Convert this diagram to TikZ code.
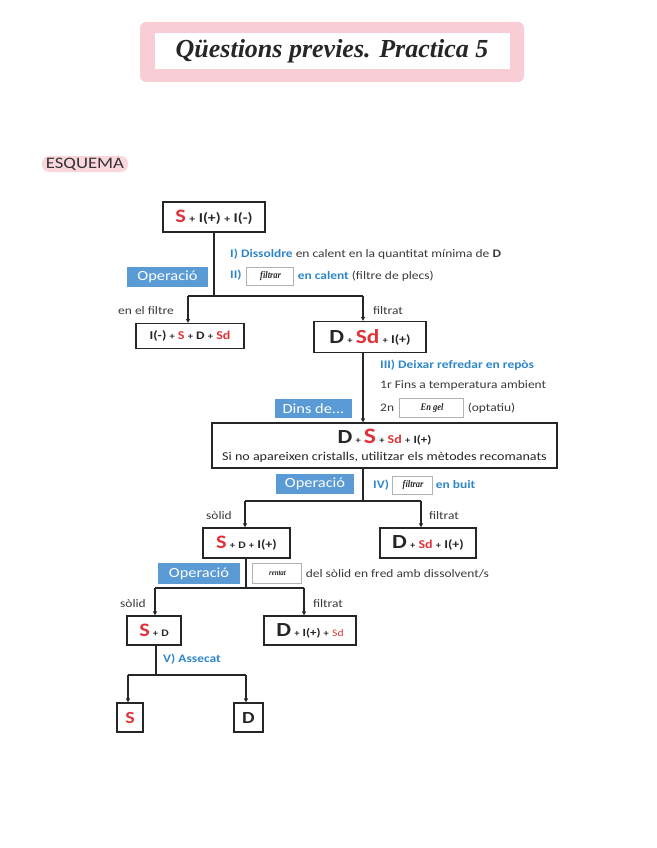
\documentclass[tikz,border=0pt]{standalone}
\usepackage{fontspec}
\setmainfont{Carlito}[FakeStretch=1.17]
\newfontfamily\titlefont{Liberation Serif}
\newfontfamily\hwfont{Liberation Serif}[FakeStretch=0.85]
\usetikzlibrary{arrows.meta}
\definecolor{sred}{HTML}{E0343A}
\definecolor{opblue}{HTML}{5B9BD5}
\definecolor{tblue}{HTML}{2E86C8}
\definecolor{tgray}{HTML}{3A3A3A}
\definecolor{pinkb}{HTML}{F9CDD5}
\newcommand{\fs}[1]{\fontsize{#1}{#1}\selectfont}
\newcommand{\rd}[2]{{\fs{#1}\color{sred}#2}}
\newcommand{\pl}{\ {\fs{9}+}\ }
\begin{document}
\begin{tikzpicture}[x=1pt,y=-1pt,
  box/.style={draw=black!85, line width=1.3pt, inner sep=0pt, font=\bfseries\fs{12}, text=black!85},
  op/.style={fill=opblue, text=white, inner sep=0pt, font=\fs{14}},
  hw/.style={draw=black!30, line width=0.6pt, fill=white, inner sep=0pt, font=\bfseries\itshape\fs{10}\hwfont, anchor=west, text=black!85},
  lbl/.style={font=\fs{11.5}, text=tgray, inner sep=0pt},
  arr/.style={draw=black!85, line width=1.3pt, -{Triangle[length=4pt,width=4pt]}},
  ln/.style={draw=black!85, line width=1.3pt}]
\useasboundingbox (0,0) rectangle (656,848);
% title
\node[fill=pinkb, rounded corners=6pt, minimum width=384, minimum height=60, inner sep=0pt] (tbg) at (332,52) {};
\node[fill=white, minimum width=355, minimum height=36, inner sep=0pt, font=\titlefont\bfseries\itshape\fs{26}, text=black!85] (title) at (332,51) {Qüestions previes. Practica 5};
% esquema
\node[fill=pinkb!80, rounded corners=7pt, minimum width=86, minimum height=16, inner sep=0pt] (eshl) at (85,164) {};
\node[font=\fs{16}, text=black!80, inner sep=0pt] (esq) at (85,164) {ESQUEMA};
% boxes
\node[box, minimum width=102, minimum height=30, font=\bfseries\fs{13.5}] (b1) at (214,217) {\rd{19}{S}\ {\fs{10}+}\ I(+)\ {\fs{10}+}\ I(-)};
\node[box, minimum width=108, minimum height=25] (b2) at (190,336) {I(-)\pl\rd{12}{S}\pl{\fs{11.5}D}\pl\rd{12}{Sd}};
\node[box, minimum width=112, minimum height=31] (b3) at (370,337) {{\fs{20}D}\pl\rd{20}{Sd}\pl I(+)};
\node[box, minimum width=345, minimum height=45, align=center] (b4) at (384.5,445.5) {{\fs{20}D}\pl\rd{22}{S}\pl\rd{12}{Sd}\pl{\fs{11}I(+)}\\[5pt]{\mdseries\fs{12}Si no apareixen cristalls, utilitzar els mètodes recomanats}};
\node[box, minimum width=87, minimum height=30] (b5) at (246.5,543) {\rd{19}{S}\pl{\fs{10}D}\pl I(+)};
\node[box, minimum width=96, minimum height=30] (b6) at (428,543) {{\fs{20}D}\pl\rd{12}{Sd}\pl I(+)};
\node[box, minimum width=54, minimum height=29] (b7) at (154,630.5) {\rd{19}{S}\pl{\fs{10}D}};
\node[box, minimum width=92, minimum height=29] (b8) at (310,630.5) {{\fs{20}D}\pl{\fs{11}I(+)}\pl\rd{10}{\mdseries Sd}};
\node[box, minimum width=26, minimum height=29] (b9) at (130,717.5) {\rd{17}{S}};
\node[box, minimum width=29, minimum height=29] (b10) at (248.5,717.5) {{\fs{17}D}};
% operation labels
\node[op, minimum width=81, minimum height=20] (op1) at (167.5,277) {Operació};
\node[op, minimum width=77, minimum height=19] (op2) at (313.5,408.5) {Dins de...};
\node[op, minimum width=78, minimum height=20] (op3) at (315,484) {Operació};
\node[op, minimum width=82, minimum height=21] (op4) at (199,573.5) {Operació};
% texts step I, II
\node[lbl, anchor=west] (t1) at (230,254) {{\bfseries\color{tblue}I) Dissoldre} en calent en la quantitat mínima de {\bfseries D}};
\node[lbl, anchor=west, font=\bfseries\fs{11.5}, text=tblue] (t2a) at (230,275) {II)};
\node[hw, minimum width=47, minimum height=18] (hw1) at (246,276) {\,filtrar};
\node[lbl, anchor=west] (t2b) at ([xshift=4pt]hw1.east) {{\bfseries\color{tblue}en calent} (filtre de plecs)};
% split 1
\coordinate (j1) at (214,296);
\coordinate (j1l) at (188,296);
\coordinate (j1r) at (363,296);
\draw[ln] (b1.south) -- (j1);
\draw[ln] (j1l) -- (j1r);
\draw[arr] (j1l) -- (j1l |- b2.north);
\draw[arr] (j1r) -- (j1r |- b3.north);
\node[lbl] (l1) at (146,311) {en el filtre};
\node[lbl] (l2) at (388,311) {filtrat};
% step III
\node[lbl, anchor=west, font=\bfseries\fs{11.5}, text=tblue] (t3) at (380,365) {III) Deixar refredar en repòs};
\node[lbl, anchor=west] (t4) at (380,385) {1r Fins a temperatura ambient};
\node[lbl, anchor=west] (t5a) at (380,408) {2n};
\node[hw, minimum width=64, minimum height=19] (hw2) at (399,408) {\,En gel};
\node[lbl, anchor=west] (t5b) at ([xshift=4pt]hw2.east) {(optatiu)};
\draw[arr] (b3.south -| j1r) -- (j1r |- b4.north);
% step IV
\node[lbl, anchor=west, font=\bfseries\fs{11.5}, text=tblue] (t6a) at (373,485) {IV)};
\node[hw, minimum width=40, minimum height=18] (hw3) at (392,485) {\,filtrar};
\node[lbl, anchor=west, font=\bfseries\fs{11.5}, text=tblue] (t6b) at ([xshift=3pt]hw3.east) {en buit};
\coordinate (j2) at (363,501);
\coordinate (j2l) at (245,501);
\coordinate (j2r) at (421,501);
\draw[ln] (b4.south -| j2) -- (j2);
\draw[ln] (j2l) -- (j2r);
\draw[arr] (j2l) -- (j2l |- b5.north);
\draw[arr] (j2r) -- (j2r |- b6.north);
\node[lbl] (l3) at (219,516) {sòlid};
\node[lbl] (l4) at (444,516) {filtrat};
% rentar
\node[hw, minimum width=49, minimum height=20, font=\bfseries\itshape\fs{8}\hwfont] (hw4) at (252,573.5) {\,rentat};
\node[lbl, anchor=west] (t7) at ([xshift=4pt]hw4.east) {del sòlid en fred amb dissolvent/s};
\coordinate (j3) at (246,588);
\coordinate (j3l) at (155,588);
\coordinate (j3r) at (304,588);
\draw[ln] (b5.south -| j3) -- (j3);
\draw[ln] (j3l) -- (j3r);
\draw[arr] (j3l) -- (j3l |- b7.north);
\draw[arr] (j3r) -- (j3r |- b8.north);
\node[lbl] (l5) at (133,604) {sòlid};
\node[lbl] (l6) at (328,604) {filtrat};
% step V
\node[lbl, anchor=west, font=\bfseries\fs{11.5}, text=tblue] (t8) at (163,659) {V) Assecat};
\coordinate (j4) at (156,675);
\coordinate (j4l) at (128,675);
\coordinate (j4r) at (246,675);
\draw[ln] (b7.south -| j4) -- (j4);
\draw[ln] (j4l) -- (j4r);
\draw[arr] (j4l) -- (j4l |- b9.north);
\draw[arr] (j4r) -- (j4r |- b10.north);
\end{tikzpicture}
\end{document}
